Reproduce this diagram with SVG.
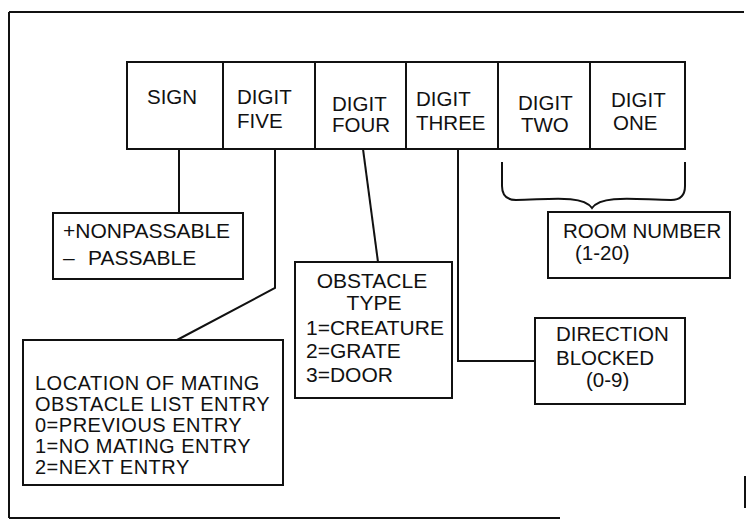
<svg xmlns="http://www.w3.org/2000/svg" width="746" height="520" viewBox="0 0 746 520">
<style>
.box{fill:#fff;stroke:#111;stroke-width:2}
.ln{fill:none;stroke:#111;stroke-width:2}
text{font-family:"Liberation Sans",Arial,sans-serif;font-size:20.5px;fill:#111}
.s{font-size:21px}
.l{font-size:20px;letter-spacing:0.5px}
</style>
<rect width="746" height="520" fill="#fff"/>
<g id="frame">
<path class="ln" d="M9 12 H744 M9 12 V518" stroke-width="2.5"/>
<path class="ln" d="M9 518 H560" stroke="#555" stroke-width="1.5"/>
<path class="ln" d="M745 476 V508" stroke="#555" stroke-width="1.5"/>
</g>
<g id="connectors">
<path class="ln" d="M179 149 V213"/>
<path class="ln" d="M275 149 V288 L177 340"/>
<path class="ln" d="M363 149 L378 262"/>
<path class="ln" d="M458 149 V361 H535"/>
<path class="ln" d="M502 162 V186 Q502 200 516 200 C545 200 582 194 592 208 C602 194 640 200 671 200 Q685 200 685 186 V162"/>
</g>
<g id="sign"><rect class="box" x="127" y="62" width="96" height="87"/><text x="147" y="104">SIGN</text></g>
<g id="digit5"><rect class="box" x="223" y="62" width="92" height="87"/><text x="237" y="104">DIGIT</text><text x="237" y="128">FIVE</text></g>
<g id="digit4"><rect class="box" x="315" y="62" width="91" height="87"/><text x="332" y="111">DIGIT</text><text x="332" y="132">FOUR</text></g>
<g id="digit3"><rect class="box" x="406" y="62" width="92" height="87"/><text x="416" y="106">DIGIT</text><text x="416" y="130">THREE</text></g>
<g id="digit2"><rect class="box" x="498" y="62" width="92" height="87"/><text x="518" y="110">DIGIT</text><text x="521" y="132">TWO</text></g>
<g id="digit1"><rect class="box" x="590" y="62" width="95" height="87"/><text x="611" y="107">DIGIT</text><text x="613" y="130">ONE</text></g>
<g id="passable"><rect class="box" x="53" y="213" width="190" height="66"/><text class="s" x="63" y="238">+NONPASSABLE</text><text class="s" x="63" y="265">–</text><text class="s" x="88" y="265">PASSABLE</text></g>
<g id="location"><rect class="box" x="23" y="340" width="260" height="145"/>
<text class="l" x="35" y="390">LOCATION OF MATING</text>
<text class="l" x="35" y="411">OBSTACLE LIST ENTRY</text>
<text class="l" x="35" y="432">0=PREVIOUS ENTRY</text>
<text class="l" x="35" y="453">1=NO MATING ENTRY</text>
<text class="l" x="35" y="474">2=NEXT ENTRY</text></g>
<g id="obstacle"><rect class="box" x="295" y="262" width="157" height="136"/>
<text class="s" x="372" y="288" text-anchor="middle">OBSTACLE</text>
<text class="s" x="374" y="310" text-anchor="middle">TYPE</text>
<text class="s" x="306" y="335">1=CREATURE</text>
<text class="s" x="306" y="358">2=GRATE</text>
<text class="s" x="306" y="382">3=DOOR</text></g>
<g id="direction"><rect class="box" x="535" y="318" width="150" height="86"/>
<text x="556" y="341">DIRECTION</text><text x="556" y="365">BLOCKED</text><text x="586" y="387">(0-9)</text></g>
<g id="room"><rect class="box" x="548" y="212" width="182" height="66"/>
<text x="563" y="238">ROOM NUMBER</text><text x="575" y="260">(1-20)</text></g>
</svg>
